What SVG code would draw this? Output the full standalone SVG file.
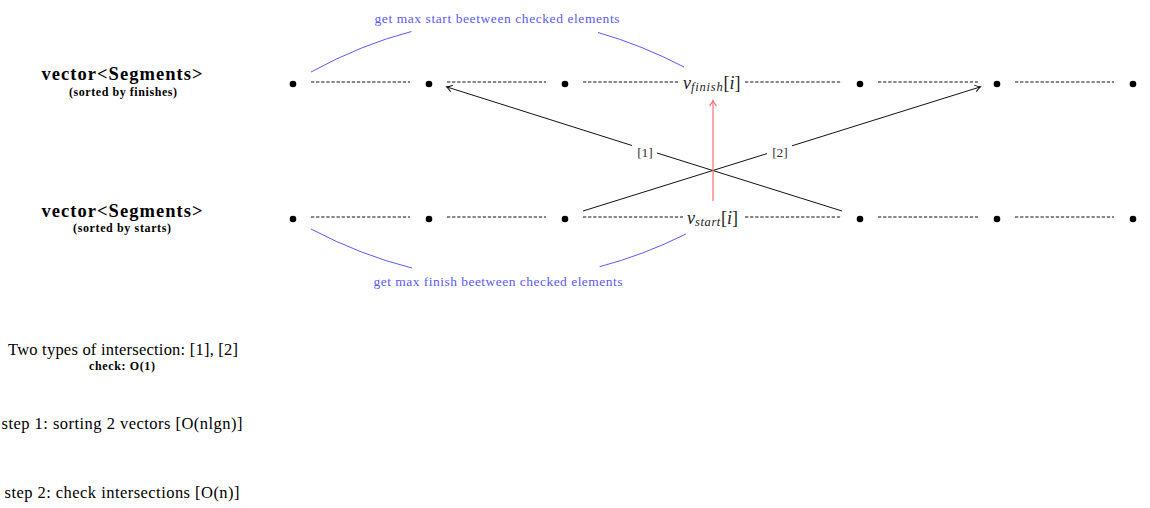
<svg xmlns="http://www.w3.org/2000/svg" width="1150" height="508" viewBox="0 0 1150 508">
<style>
text{font-family:"Liberation Serif","DejaVu Serif",serif;}
.title{font-size:18.5px;font-weight:bold;text-anchor:middle;}
.sub{font-size:12px;font-weight:bold;text-anchor:middle;}
.plain{font-size:16.5px;text-anchor:middle;fill:#000;}
.blue{font-size:13.5px;fill:#5a5aff;text-anchor:middle;}
.lbl{font-size:13.5px;fill:#333;text-anchor:middle;}
.vlab{font-size:18px;font-style:italic;fill:#222;}
.dash{stroke:#111;stroke-width:1;stroke-dasharray:3.3 1.8;fill:none;}
.dot{fill:#000;}
.arc{stroke:#5a5aff;stroke-width:1;fill:none;}
.conn{stroke:#111;stroke-width:1;fill:none;}
.red{stroke:#ff7070;stroke-width:1.2;fill:none;}
</style>
<defs>
<marker id="ah" markerWidth="10" markerHeight="10" refX="7" refY="5" orient="auto" markerUnits="userSpaceOnUse">
<path d="M2,1.5 Q5,4 7.5,5 Q5,6 2,8.5" fill="none" stroke="#111" stroke-width="1"/>
</marker>
<marker id="ahr" markerWidth="10" markerHeight="10" refX="7" refY="5" orient="auto" markerUnits="userSpaceOnUse">
<path d="M2,1.5 Q5,4 7.5,5 Q5,6 2,8.5" fill="none" stroke="#ff7070" stroke-width="1.2"/>
</marker>
</defs>

<g id="label-finishes">
<text class="title" x="122" y="80" textLength="161">vector&lt;Segments&gt;</text>
<text class="sub" x="123" y="96" textLength="108">(sorted by finishes)</text>
</g>
<g id="label-starts">
<text class="title" x="122" y="217" textLength="161">vector&lt;Segments&gt;</text>
<text class="sub" x="122" y="232" textLength="98">(sorted by starts)</text>
</g>

<g id="top-row">
<circle class="dot" cx="293" cy="84" r="3.3"/>
<circle class="dot" cx="429" cy="84" r="3.3"/>
<circle class="dot" cx="565" cy="84" r="3.3"/>
<circle class="dot" cx="860" cy="84" r="3.3"/>
<circle class="dot" cx="997" cy="84" r="3.3"/>
<circle class="dot" cx="1133" cy="84" r="3.3"/>
<text class="vlab" x="683" y="89">v<tspan font-size="12.5" dy="2" letter-spacing="0.8">finish</tspan><tspan font-style="normal" dy="-2">[</tspan>i<tspan font-style="normal">]</tspan></text>
</g>
<g id="bottom-row">
<circle class="dot" cx="293" cy="219" r="3.3"/>
<circle class="dot" cx="429" cy="219" r="3.3"/>
<circle class="dot" cx="565" cy="219" r="3.3"/>
<circle class="dot" cx="860" cy="219" r="3.3"/>
<circle class="dot" cx="997" cy="219" r="3.3"/>
<circle class="dot" cx="1133" cy="219" r="3.3"/>
<text class="vlab" x="687" y="224">v<tspan font-size="12.5" dy="2" letter-spacing="0.6">start</tspan><tspan font-style="normal" dy="-2">[</tspan>i<tspan font-style="normal">]</tspan></text>
</g>

<g id="connectors">
<path class="dash" d="M311,82H410M447,82H546M583,82H680M745,82H842M878,82H978M1015,82H1114"/>
<path class="dash" d="M311,217H410M447,217H546M583,217H683M745,217H842M878,217H978M1015,217H1114"/>
<path class="arc" d="M311,72 Q361.2,44.5 411.5,31.5"/>
<path class="arc" d="M598,32.5 Q641,44.7 684,67"/>
<path class="arc" d="M311,229 Q361.5,255.5 412,268"/>
<path class="arc" d="M599.6,266.7 Q642.8,255.4 686,234"/>
<path class="conn" d="M842,211 L657,153"/>
<path class="conn" d="M632,145.5 L447,87" marker-end="url(#ah)"/>
<path class="conn" d="M583,211 L767,153.6"/>
<path class="conn" d="M792,145.8 L980,87" marker-end="url(#ah)"/>
<path class="red" d="M713,201 L713,101" marker-end="url(#ahr)"/>
</g>

<g id="arc-labels">
<text class="blue" x="497" y="23" textLength="245">get max start beetween checked elements</text>
<text class="blue" x="498" y="286" textLength="249">get max finish beetween checked elements</text>
<text class="lbl" x="645" y="157">[1]</text>
<text class="lbl" x="780" y="157">[2]</text>
</g>

<g id="notes">
<text class="plain" x="123" y="355" textLength="230">Two types of intersection: [1], [2]</text>
<text class="sub" x="122" y="370" textLength="66">check: O(1)</text>
<text class="plain" x="122" y="429" textLength="241">step 1: sorting 2 vectors [O(nlgn)]</text>
<text class="plain" x="122" y="498" textLength="235">step 2: check intersections [O(n)]</text>
</g>
</svg>
